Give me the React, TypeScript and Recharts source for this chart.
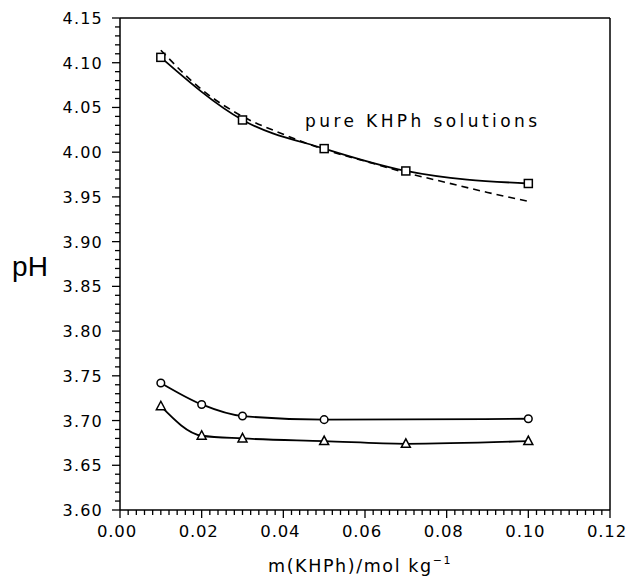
import React from 'react';
import { LineChart, Line, XAxis, YAxis } from 'recharts';

// ---------------------------------------------------------------------------
// Data
// ---------------------------------------------------------------------------

const pureX = [0.01, 0.03, 0.05, 0.07, 0.1];
const purePH = [4.106, 4.036, 4.004, 3.979, 3.965];

const fitX = [0.01, 0.02, 0.03, 0.04, 0.05, 0.06, 0.07, 0.08, 0.09, 0.1];
const fitPH = [4.114, 4.07, 4.04, 4.02, 4.003, 3.99, 3.977, 3.966, 3.955, 3.945];

const circleX = [0.01, 0.02, 0.03, 0.05, 0.1];
const circlePH = [3.742, 3.718, 3.705, 3.701, 3.702];

const triangleX = [0.01, 0.02, 0.03, 0.05, 0.07, 0.1];
const trianglePH = [3.716, 3.683, 3.68, 3.677, 3.674, 3.677];

const xMajorTicks = [0, 0.02, 0.04, 0.06, 0.08, 0.1, 0.12];
const yMajorTicks = [3.6, 3.65, 3.7, 3.75, 3.8, 3.85, 3.9, 3.95, 4.0, 4.05, 4.1, 4.15];

// minor tick positions (axis decoration only)
const xMinorTicks = Array.from({ length: 61 }, (_, i) => Math.round(i * 2) / 1000);
const yMinorTicks = Array.from({ length: 56 }, (_, i) => Math.round(360 + i) / 100);

const toPoints = (xs: number[], ys: number[]) => xs.map((x, i) => ({ x, y: ys[i] }));

const pureData = toPoints(pureX, purePH);
const fitData = toPoints(fitX, fitPH);
const circleData = toPoints(circleX, circlePH);
const triangleData = toPoints(triangleX, trianglePH);

const FONT = '"DejaVu Sans", Verdana, sans-serif';
const FONT_PH = '"Liberation Sans", Arial, sans-serif';

const isMajor = (v: number, list: number[]) => list.some((m) => Math.abs(m - v) < 1e-6);

// ---------------------------------------------------------------------------
// Custom ticks
// ---------------------------------------------------------------------------

const XTick = ({ x, y, payload }: any) => {
  const major = isMajor(payload.value, xMajorTicks);
  return (
    <g>
      <line x1={x} x2={x} y1={y} y2={y + (major ? 8 : 5)} stroke="#000" strokeWidth={1.3} />
      {major && (
        <text
          x={x - 3}
          y={y + 27}
          textAnchor="middle"
          fontSize={16.5}
          letterSpacing={0.8}
          fontFamily={FONT}
          fill="#000"
        >
          {payload.value.toFixed(2)}
        </text>
      )}
    </g>
  );
};

const YTick = ({ x, y, payload }: any) => {
  const major = isMajor(payload.value, yMajorTicks);
  return (
    <g>
      <line x1={x - (major ? 8 : 5)} x2={x} y1={y} y2={y} stroke="#000" strokeWidth={1.3} />
      {major && (
        <text
          x={x - 17}
          y={y + 6}
          textAnchor="end"
          fontSize={16}
          letterSpacing={1.2}
          fontFamily={FONT}
          fill="#000"
        >
          {payload.value.toFixed(2)}
        </text>
      )}
    </g>
  );
};

// ---------------------------------------------------------------------------
// Markers
// ---------------------------------------------------------------------------

const SquareDot = ({ cx, cy }: any) => (
  <rect x={cx - 4} y={cy - 4} width={8} height={8} fill="#fff" stroke="#000" strokeWidth={1.5} />
);

const CircleDot = ({ cx, cy }: any) => (
  <circle cx={cx} cy={cy} r={3.8} fill="#fff" stroke="#000" strokeWidth={1.5} />
);

const TriangleDot = ({ cx, cy }: any) => (
  <polygon
    points={`${cx},${cy - 5} ${cx - 4.5},${cy + 3.5} ${cx + 4.5},${cy + 3.5}`}
    fill="#fff"
    stroke="#000"
    strokeWidth={1.5}
  />
);

// ---------------------------------------------------------------------------
// Component
// ---------------------------------------------------------------------------

const App: React.FC = () => {
  return (
    <div style={{ position: 'absolute', left: 0, top: 0, background: '#fff' }}>
      <LineChart width={627} height={577} margin={{ top: 17, right: 16, bottom: 37, left: 60 }}>
        <XAxis
          type="number"
          dataKey="x"
          domain={[0, 0.12]}
          ticks={xMinorTicks}
          interval={0}
          tick={<XTick />}
          tickLine={false}
          tickSize={0}
          tickMargin={0}
          height={30}
          axisLine={{ stroke: '#000', strokeWidth: 1.5 }}
          allowDataOverflow
        />
        <XAxis
          xAxisId="top"
          orientation="top"
          type="number"
          domain={[0, 0.12]}
          tick={false}
          tickLine={false}
          height={1}
          axisLine={{ stroke: '#000', strokeWidth: 1.5 }}
        />
        <YAxis
          type="number"
          domain={[3.6, 4.15]}
          ticks={yMinorTicks}
          interval={0}
          tick={<YTick />}
          tickLine={false}
          tickSize={0}
          tickMargin={0}
          width={60}
          axisLine={{ stroke: '#000', strokeWidth: 1.5 }}
          allowDataOverflow
        />
        <YAxis
          yAxisId="right"
          orientation="right"
          type="number"
          domain={[3.6, 4.15]}
          tick={false}
          tickLine={false}
          width={1}
          axisLine={{ stroke: '#000', strokeWidth: 1.5 }}
        />

        <Line
          data={fitData}
          dataKey="y"
          type="monotone"
          stroke="#000"
          strokeWidth={1.6}
          strokeDasharray="7 5"
          dot={false}
          isAnimationActive={false}
        />
        <Line
          data={pureData}
          dataKey="y"
          type="monotone"
          stroke="#000"
          strokeWidth={1.8}
          dot={<SquareDot />}
          isAnimationActive={false}
        />
        <Line
          data={circleData}
          dataKey="y"
          type="monotone"
          stroke="#000"
          strokeWidth={1.8}
          dot={<CircleDot />}
          isAnimationActive={false}
        />
        <Line
          data={triangleData}
          dataKey="y"
          type="monotone"
          stroke="#000"
          strokeWidth={1.8}
          dot={<TriangleDot />}
          isAnimationActive={false}
        />

        <text
          x={305}
          y={127}
          fontSize={17}
          fontFamily={FONT}
          textLength={232}
          lengthAdjust="spacing"
          fill="#000"
        >
          pure KHPh solutions
        </text>
        <text x={30} y={276} fontSize={28} fontFamily={FONT_PH} textAnchor="middle" fill="#000">
          pH
        </text>
        <text
          x={268}
          y={572}
          fontSize={17.5}
          fontFamily={FONT}
          letterSpacing={1.6}
          fill="#000"
        >
          m(KHPh)/mol kg
          <tspan fontSize={11} dy={-8}>−1</tspan>
        </text>
      </LineChart>
    </div>
  );
};

export default App;
